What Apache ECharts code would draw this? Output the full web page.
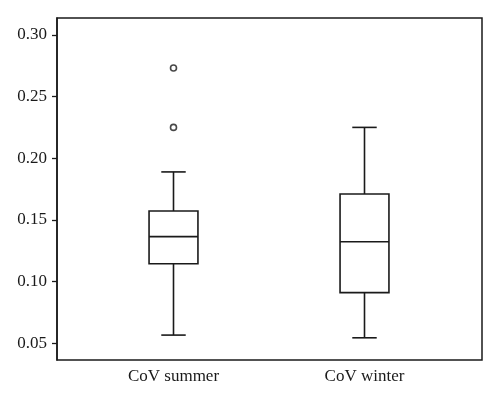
<!DOCTYPE html>
<html>
<head>
<meta charset="utf-8">
<script src="https://cdn.jsdelivr.net/npm/echarts@6/dist/echarts.min.js"></script>
<style>
  html, body { margin: 0; padding: 0; background: #fff; }
  #chart { width: 500px; height: 398px; }
</style>
</head>
<body>
<div id="chart"></div>
<script>
// box plot of CoV, summer vs winter

var categories = ['CoV summer', 'CoV winter'];
// [min, Q1, median, Q3, max]
var boxStats = [
    [0.0567, 0.1146, 0.1365, 0.1573, 0.189],
    [0.0545, 0.0911, 0.1324, 0.1711, 0.2251]
];
// [category index, value]
var outliers = [
    [0, 0.2733],
    [0, 0.2251]
];
var yTicks = [0.05, 0.10, 0.15, 0.20, 0.25, 0.30];
var yMin = 0.0365, yMax = 0.3138;

var ink = '#1a1a1a';
var font = 'Liberation Serif';

var boxData = boxStats.map(function (s, i) {
    return [i].concat(s);
});

function renderBox(params, api) {
    var idx = api.value(0);
    var band = api.size([1, 0])[0];
    var half = band * 0.128;
    var cap = half / 2;
    var pMin = api.coord([idx, api.value(1)]);
    var pQ1 = api.coord([idx, api.value(2)]);
    var pMed = api.coord([idx, api.value(3)]);
    var pQ3 = api.coord([idx, api.value(4)]);
    var pMax = api.coord([idx, api.value(5)]);
    var x = pMed[0];
    var st = { stroke: ink, lineWidth: 1.6, fill: null };
    function line(x1, y1, x2, y2) {
        return { type: 'line', shape: { x1: x1, y1: y1, x2: x2, y2: y2 }, style: st };
    }
    return {
        type: 'group',
        children: [
            { type: 'rect', shape: { x: x - half, y: pQ3[1], width: half * 2, height: pQ1[1] - pQ3[1] },
              style: { stroke: ink, lineWidth: 1.6, fill: '#fff' } },
            line(x - half, pMed[1], x + half, pMed[1]),
            line(x, pQ3[1], x, pMax[1]),
            line(x, pQ1[1], x, pMin[1]),
            line(x - cap, pMax[1], x + cap, pMax[1]),
            line(x - cap, pMin[1], x + cap, pMin[1])
        ]
    };
}

var myChart = echarts.init(document.getElementById('chart'));

var option = {
    animation: false,
    backgroundColor: '#fff',
    grid: [
        { left: 57, top: 18, width: 425, height: 342, show: true, borderColor: ink, borderWidth: 1.5, backgroundColor: 'transparent' },
        { left: 78, top: 18, width: 382, height: 342 }
    ],
    xAxis: [
        { type: 'category', gridIndex: 0, data: categories, show: false },
        {
            type: 'category', gridIndex: 1, data: categories,
            axisLine: { show: false },
            axisTick: { show: false },
            axisLabel: { color: ink, fontFamily: font, fontSize: 17, margin: 8 }
        }
    ],
    yAxis: [
        {
            type: 'value', gridIndex: 0, min: yMin, max: yMax,
            splitLine: { show: false },
            axisLine: { show: true, lineStyle: { color: ink, width: 1.5 } },
            axisTick: { show: true, length: 5, customValues: yTicks, lineStyle: { color: ink, width: 1.3 } },
            axisLabel: {
                customValues: yTicks, margin: 10, color: ink, fontFamily: font, fontSize: 17,
                formatter: function (v) { return v.toFixed(2); }
            }
        },
        { type: 'value', gridIndex: 1, min: yMin, max: yMax, show: false, splitLine: { show: false } }
    ],
    series: [
        {
            type: 'custom',
            xAxisIndex: 1,
            yAxisIndex: 1,
            data: boxData,
            renderItem: renderBox
        },
        {
            type: 'scatter',
            xAxisIndex: 1,
            yAxisIndex: 1,
            data: outliers,
            symbol: 'circle',
            symbolSize: 6,
            itemStyle: { color: '#fff', borderColor: ink, borderWidth: 1.6 }
        }
    ]
};

myChart.setOption(option);
</script>
</body>
</html>
